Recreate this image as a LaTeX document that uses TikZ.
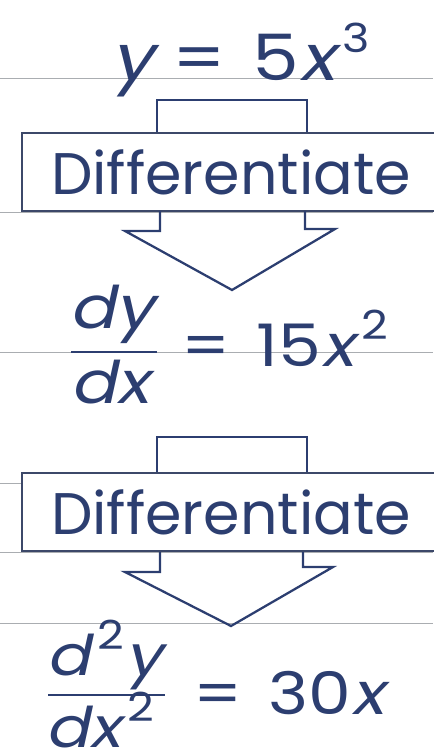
\documentclass[tikz,border=0pt]{standalone}
\usepackage{fontspec}
\setmainfont{Poppins}
\newfontfamily\popwide[FakeStretch=1.16]{Poppins}
\newfontfamily\popit[FakeSlant=0.22, FakeStretch=1.16]{Poppins}
\usetikzlibrary{positioning, calc}
\definecolor{inkblue}{RGB}{44,62,112}
\definecolor{boxline}{RGB}{60,72,105}
\definecolor{ruled}{RGB}{170,173,177}
\newcommand{\supnum}[1]{\kern5.5pt\raisebox{0.45em}{\fontsize{30}{30}\selectfont #1}}
\tikzset{
  ruling/.style={color=ruled, line width=0.7pt},
  diffbox/.style={rectangle, draw=boxline, fill=white, line width=1.3pt,
    minimum width=314pt, minimum height=59pt, inner sep=0pt,
    text=inkblue, font=\fontsize{44}{44}\selectfont},
  eqn/.style={inner sep=0pt, text=inkblue},
  blockarrow/.style={draw=inkblue, line width=1.7pt, line join=miter}
}
\begin{document}
\begin{tikzpicture}[x=0.75pt, y=-0.75pt]
  \useasboundingbox (0,0) rectangle (433,752);
  % Ruled lines of the page
  \foreach \ry in {78, 212, 352, 483, 552, 623}
    \draw[ruling] (0,\ry) -- (433,\ry);

  % First step
  \node[eqn, font=\popwide\fontsize{48}{48}\selectfont, anchor=base west] (eqA) at (111,81)
    {{\popit y}\hspace{0.3em}=\hspace{0.42em}5{\popit x}\supnum{3}};
  \draw[blockarrow] (157,133) -- (157,100) -- (307,100) -- (307,133);
  \node[diffbox] (diffA) at (231,172) {Differentiate};
  \draw[blockarrow] (160,211) -- (160,231) -- (125,231) -- (232,290)
    -- (335,229) -- (305,229) -- (305,211);

  % dy/dx
  \node[eqn, font=\popwide\fontsize{44}{44}\selectfont] (numA) at (112,314) {\popit dy};
  \node[eqn, font=\popwide\fontsize{44}{44}\selectfont] (denA) at (110,382) {\popit dx};
  \draw[inkblue, line width=2.2pt] (71,352) -- (157,352);
  \node[eqn, font=\popwide\fontsize{44}{44}\selectfont, anchor=base west] (rhsA) at (181,366)
    {=\hspace{0.45em}15{\popit x}\supnum{2}};

  % Second step
  \draw[blockarrow] (157,472) -- (157,437) -- (307,437) -- (307,472);
  \node[diffbox] (diffB) at (231,512) {Differentiate};
  \draw[blockarrow] (160,552) -- (160,572) -- (125,572) -- (231,626)
    -- (333,567) -- (303,567) -- (303,552);

  % d2y/dx2
  \node[eqn, font=\popwide\fontsize{42}{42}\selectfont] (numB) at (104,655)
    {{\popit d}\supnum{2}\kern1pt{\popit y}};
  \node[eqn, font=\popwide\fontsize{42}{42}\selectfont] (denB) at (100,720)
    {{\popit dx}\supnum{2}};
  \draw[inkblue, line width=2.2pt] (48,695) -- (165,695);
  \node[eqn, font=\popwide\fontsize{44}{44}\selectfont, anchor=base west] (rhsB) at (193,714)
    {=\hspace{0.45em}30{\popit x}};
\end{tikzpicture}
\end{document}
